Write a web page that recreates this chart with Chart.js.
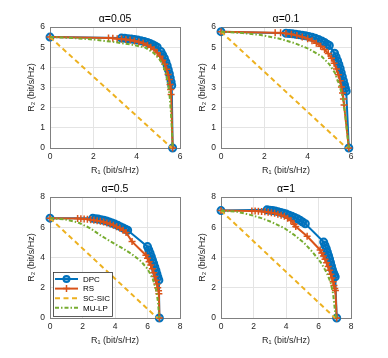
<!DOCTYPE html>
<html>
<head>
<meta charset="utf-8">
<script src="https://cdn.jsdelivr.net/npm/chart.js@4/dist/chart.umd.min.js"></script>
<style>
  body { margin: 0; background: #fff; width: 388px; height: 358px; position: relative; overflow: hidden; }
  canvas { position: absolute; }
</style>
</head>
<body>
<canvas id="c1" width="190" height="175" style="left:2px;top:3px"></canvas>
<canvas id="c2" width="190" height="175" style="left:173px;top:3px"></canvas>
<canvas id="c3" width="190" height="175" style="left:2px;top:173px"></canvas>
<canvas id="c4" width="190" height="175" style="left:173px;top:173px"></canvas>
<script>
// panel titles and axis ranges
const titles = ['α=0.05', 'α=0.1', 'α=0.5', 'α=1'];
const axisMax = [6, 6, 8, 8];
const xStep = [2, 2, 2, 2];
const yStep = [1, 1, 2, 2];
const seriesNames = ['DPC', 'RS', 'SC-SIC', 'MU-LP'];

// alpha = 0.05  (points are [R1, R2])
const dpc005 = [[0,5.5],[3.3,5.45],[3.45,5.44],[3.6,5.42],[3.75,5.4],[3.9,5.38],[4.05,5.35],[4.2,5.32],[4.35,5.28],[4.5,5.23],[4.62,5.18],[4.74,5.12],[4.85,5.06],[4.95,5.0],[5.12,4.78],[5.2,4.62],[5.28,4.45],[5.35,4.27],[5.41,4.08],[5.46,3.88],[5.51,3.68],[5.55,3.48],[5.59,3.28],[5.62,3.1],[5.66,0]];
const rs005 = [[0,5.5],[2.7,5.45],[2.9,5.44],[3.1,5.42],[3.3,5.4],[3.5,5.38],[3.7,5.35],[3.9,5.31],[4.1,5.26],[4.3,5.2],[4.5,5.1],[4.65,5.0],[4.8,4.88],[4.95,4.72],[5.08,4.55],[5.2,4.35],[5.3,4.15],[5.38,3.9],[5.45,3.65],[5.5,3.4],[5.54,3.15],[5.57,2.9],[5.59,2.65],[5.66,0]];
const scsic005 = [[0,5.5],[5.62,0]];
const mulp005 = [[0,5.5],[1,5.46],[2,5.38],[3,5.25],[3.8,5.12],[4.4,4.98],[4.8,4.7],[5.05,4.4],[5.2,4.15],[5.35,3.7],[5.45,3.2],[5.52,2.6],[5.58,1.8],[5.62,1.0],[5.65,0.3],[5.66,0]];

// alpha = 0.1
const dpc01 = [[0,5.77],[3.0,5.69],[3.15,5.68],[3.3,5.66],[3.45,5.64],[3.6,5.62],[3.75,5.59],[3.9,5.56],[4.05,5.53],[4.2,5.49],[4.35,5.44],[4.5,5.38],[4.65,5.31],[4.78,5.23],[4.9,5.15],[5.0,5.08],[5.24,4.7],[5.31,4.52],[5.38,4.33],[5.44,4.14],[5.5,3.94],[5.55,3.74],[5.6,3.54],[5.65,3.34],[5.7,3.14],[5.74,2.96],[5.78,2.82],[5.9,0]];
const rs01 = [[0,5.77],[2.5,5.72],[2.75,5.71],[3.0,5.68],[3.25,5.64],[3.5,5.58],[3.75,5.5],[4.0,5.42],[4.2,5.32],[4.4,5.2],[4.6,5.05],[4.78,4.88],[4.95,4.68],[5.1,4.45],[5.22,4.2],[5.33,3.92],[5.42,3.63],[5.5,3.33],[5.56,3.03],[5.61,2.73],[5.65,2.43],[5.68,2.13],[5.9,0]];
const scsic01 = [[0,5.77],[5.8,0]];
const mulp01 = [[0,5.77],[1,5.7],[1.85,5.6],[2.7,5.42],[3.4,5.2],[4.05,4.92],[4.64,4.55],[5.0,4.15],[5.26,3.72],[5.47,3.1],[5.64,2.41],[5.75,1.5],[5.83,0.7],[5.9,0]];

// alpha = 0.5
const dpc05 = [[0,6.6],[2.63,6.59],[2.8,6.57],[2.97,6.54],[3.14,6.5],[3.31,6.46],[3.48,6.41],[3.65,6.35],[3.82,6.28],[3.99,6.21],[4.16,6.13],[4.33,6.04],[4.5,5.95],[4.65,5.87],[4.78,5.8],[6.0,4.72],[6.08,4.5],[6.16,4.28],[6.24,4.05],[6.31,3.82],[6.38,3.6],[6.45,3.37],[6.52,3.14],[6.58,2.92],[6.64,2.7],[6.7,2.5],[6.73,0]];
const rs05 = [[0,6.6],[1.7,6.58],[1.9,6.57],[2.1,6.55],[2.3,6.53],[2.5,6.5],[2.7,6.47],[2.9,6.43],[3.1,6.39],[3.3,6.34],[3.5,6.28],[3.7,6.21],[3.9,6.13],[4.1,6.04],[4.3,5.93],[4.5,5.8],[4.68,5.65],[5.05,5.05],[5.9,4.15],[6.0,3.95],[6.1,3.72],[6.2,3.5],[6.3,3.25],[6.38,3.0],[6.45,2.75],[6.52,2.5],[6.58,2.25],[6.63,2.0],[6.68,1.8],[6.7,1.6],[6.73,0]];
const scsic05 = [[0,6.6],[6.6,0]];
const mulp05 = [[0,6.6],[0.9,6.52],[1.7,6.33],[2.45,5.95],[3.14,5.44],[3.8,5.02],[4.37,4.67],[5.0,4.25],[5.6,3.75],[6.0,3.25],[6.32,2.6],[6.55,1.8],[6.65,1.0],[6.7,0.3],[6.72,0]];

// alpha = 1
const dpc1 = [[0,7.1],[2.83,7.15],[3.0,7.13],[3.17,7.1],[3.34,7.07],[3.51,7.03],[3.68,6.98],[3.85,6.93],[4.02,6.87],[4.19,6.8],[4.36,6.73],[4.53,6.65],[4.7,6.56],[4.86,6.46],[5.02,6.35],[5.19,6.23],[6.32,5.02],[6.4,4.8],[6.48,4.58],[6.55,4.35],[6.62,4.12],[6.68,3.9],[6.74,3.67],[6.8,3.43],[6.86,3.2],[6.92,3.0],[6.98,2.85],[7.03,2.72],[7.12,0]];
const rs1 = [[0,7.1],[1.9,7.08],[2.1,7.07],[2.3,7.06],[2.5,7.04],[2.7,7.02],[2.9,6.99],[3.1,6.96],[3.3,6.92],[3.5,6.86],[3.7,6.8],[3.9,6.72],[4.1,6.6],[4.3,6.45],[4.5,6.2],[4.6,6.05],[5.3,5.4],[6.1,4.5],[6.2,4.3],[6.3,4.1],[6.4,3.88],[6.5,3.65],[6.6,3.4],[6.68,3.15],[6.76,2.9],[6.83,2.65],[6.9,2.4],[6.95,2.15],[7.0,1.95],[7.04,1.82],[7.12,0]];
const scsic1 = [[0,7.1],[7.02,0]];
const mulp1 = [[0,7.1],[1,7.02],[1.8,6.82],[2.44,6.62],[3.1,6.35],[3.88,5.95],[4.5,5.5],[5.1,4.98],[5.6,4.4],[6.13,3.7],[6.5,3.0],[6.75,2.35],[6.9,1.6],[6.98,0.8],[7.05,0.2],[7.1,0]];

const panels = [
  [dpc005, rs005, scsic005, mulp005],
  [dpc01, rs01, scsic01, mulp01],
  [dpc05, rs05, scsic05, mulp05],
  [dpc1, rs1, scsic1, mulp1]
];

// matlab default colours and line styles
const styles = [
  { color: '#0072BD', fill: 'rgba(0,114,189,0.45)', dash: [], point: 'circle', radius: 3.5, bw: 2, order: 4 },
  { color: '#D95319', fill: 'rgba(0,0,0,0)', dash: [], point: 'cross', radius: 3.5, bw: 1.5, order: 3 },
  { color: '#EDB120', fill: 'rgba(0,0,0,0)', dash: [5, 3.5], point: false, radius: 0, bw: 2, order: 2 },
  { color: '#77AC30', fill: 'rgba(0,0,0,0)', dash: [4, 2, 1.5, 2], point: false, radius: 0, bw: 2, order: 1 }
];

const FONT = "'Liberation Sans', Arial, Helvetica, sans-serif";

// box around the plot area, like matlab's "box on"
const framePlugin = {
  id: 'frame',
  beforeDatasetsDraw(chart) {
    const { ctx, chartArea: a } = chart;
    ctx.save();
    ctx.strokeStyle = '#808080';
    ctx.lineWidth = 1;
    ctx.strokeRect(a.left + 0.5, a.top + 0.5, a.right - a.left, a.bottom - a.top);
    ctx.restore();
  }
};

// legend drawn inside the lower-left corner of the plot area
const insideLegend = {
  id: 'insideLegend',
  afterDraw(chart, args, opts) {
    if (!opts.show) return;
    const { ctx, chartArea: a } = chart;
    const left = a.left + 3, right = a.left + 62;
    const bottom = a.bottom - 2, top = bottom - 44;
    ctx.save();
    ctx.fillStyle = '#fff';
    ctx.fillRect(left, top, right - left, bottom - top);
    ctx.strokeStyle = '#333';
    ctx.lineWidth = 0.8;
    ctx.strokeRect(left + 0.5, top + 0.5, right - left, bottom - top);
    chart.data.datasets.forEach((ds, i) => {
      const y = top + 7 + i * 9.6;
      const st = styles[i];
      ctx.strokeStyle = st.color;
      ctx.lineWidth = 2;
      ctx.setLineDash(st.dash);
      ctx.beginPath();
      ctx.moveTo(left + 2, y);
      ctx.lineTo(left + 25, y);
      ctx.stroke();
      ctx.setLineDash([]);
      const mx = left + 13.5;
      if (st.point === 'circle') {
        ctx.lineWidth = 2;
        ctx.fillStyle = st.fill;
        ctx.beginPath();
        ctx.arc(mx, y, 3, 0, Math.PI * 2);
        ctx.fill();
        ctx.stroke();
      } else if (st.point === 'cross') {
        ctx.lineWidth = 1.5;
        ctx.beginPath();
        ctx.moveTo(mx - 3.5, y); ctx.lineTo(mx + 3.5, y);
        ctx.moveTo(mx, y - 3.5); ctx.lineTo(mx, y + 3.5);
        ctx.stroke();
      }
      ctx.fillStyle = '#000';
      ctx.font = '8px ' + FONT;
      ctx.textBaseline = 'middle';
      ctx.textAlign = 'left';
      ctx.fillText(ds.label, left + 30, y + 0.5);
    });
    ctx.restore();
  }
};

function makePanel(k) {
  const datasets = panels[k].map((pts, i) => ({
    label: seriesNames[i],
    data: pts.map(p => ({ x: p[0], y: p[1] })),
    showLine: true,
    borderColor: styles[i].color,
    backgroundColor: styles[i].color,
    borderWidth: 2,
    borderDash: styles[i].dash,
    pointStyle: styles[i].point,
    pointRadius: styles[i].radius,
    pointBorderWidth: styles[i].bw,
    pointBorderColor: styles[i].color,
    pointBackgroundColor: styles[i].fill,
    tension: 0,
    clip: false,
    order: styles[i].order
  }));

  new Chart(document.getElementById('c' + (k + 1)), {
    type: 'scatter',
    data: { datasets },
    options: {
      responsive: false,
      animation: false,
      layout: { padding: { left: 0, right: 12, top: 0, bottom: 0 } },
      scales: {
        x: {
          type: 'linear',
          min: 0,
          max: axisMax[k],
          afterFit: s => { s.height = 30; },
          ticks: { stepSize: xStep[k], color: '#262626', padding: 4, font: { family: FONT, size: 8.5 } },
          grid: { color: '#e4e4e4', drawTicks: false },
          border: { display: false },
          title: { display: true, text: 'R₁ (bit/s/Hz)', color: '#262626', padding: { top: 0, bottom: 2 }, font: { family: FONT, size: 9 } }
        },
        y: {
          type: 'linear',
          min: 0,
          max: axisMax[k],
          afterFit: s => { s.width = 48; },
          ticks: { stepSize: yStep[k], color: '#262626', padding: 5, font: { family: FONT, size: 8.5 } },
          grid: { color: '#e4e4e4', drawTicks: false },
          border: { display: false },
          title: { display: true, text: 'R₂ (bit/s/Hz)', color: '#262626', padding: { top: 24.5, bottom: 0 }, font: { family: FONT, size: 9 } }
        }
      },
      plugins: {
        legend: { display: false },
        tooltip: { enabled: false },
        title: {
          display: true,
          fullSize: false,
          text: titles[k],
          color: '#000',
          padding: { top: 10, bottom: 1.4 },
          font: { family: FONT, size: 10.5, weight: 'normal' }
        },
        insideLegend: { show: k === 2 }
      }
    },
    plugins: [framePlugin, insideLegend]
  });
}

[0, 1, 2, 3].forEach(makePanel);
</script>
</body>
</html>
